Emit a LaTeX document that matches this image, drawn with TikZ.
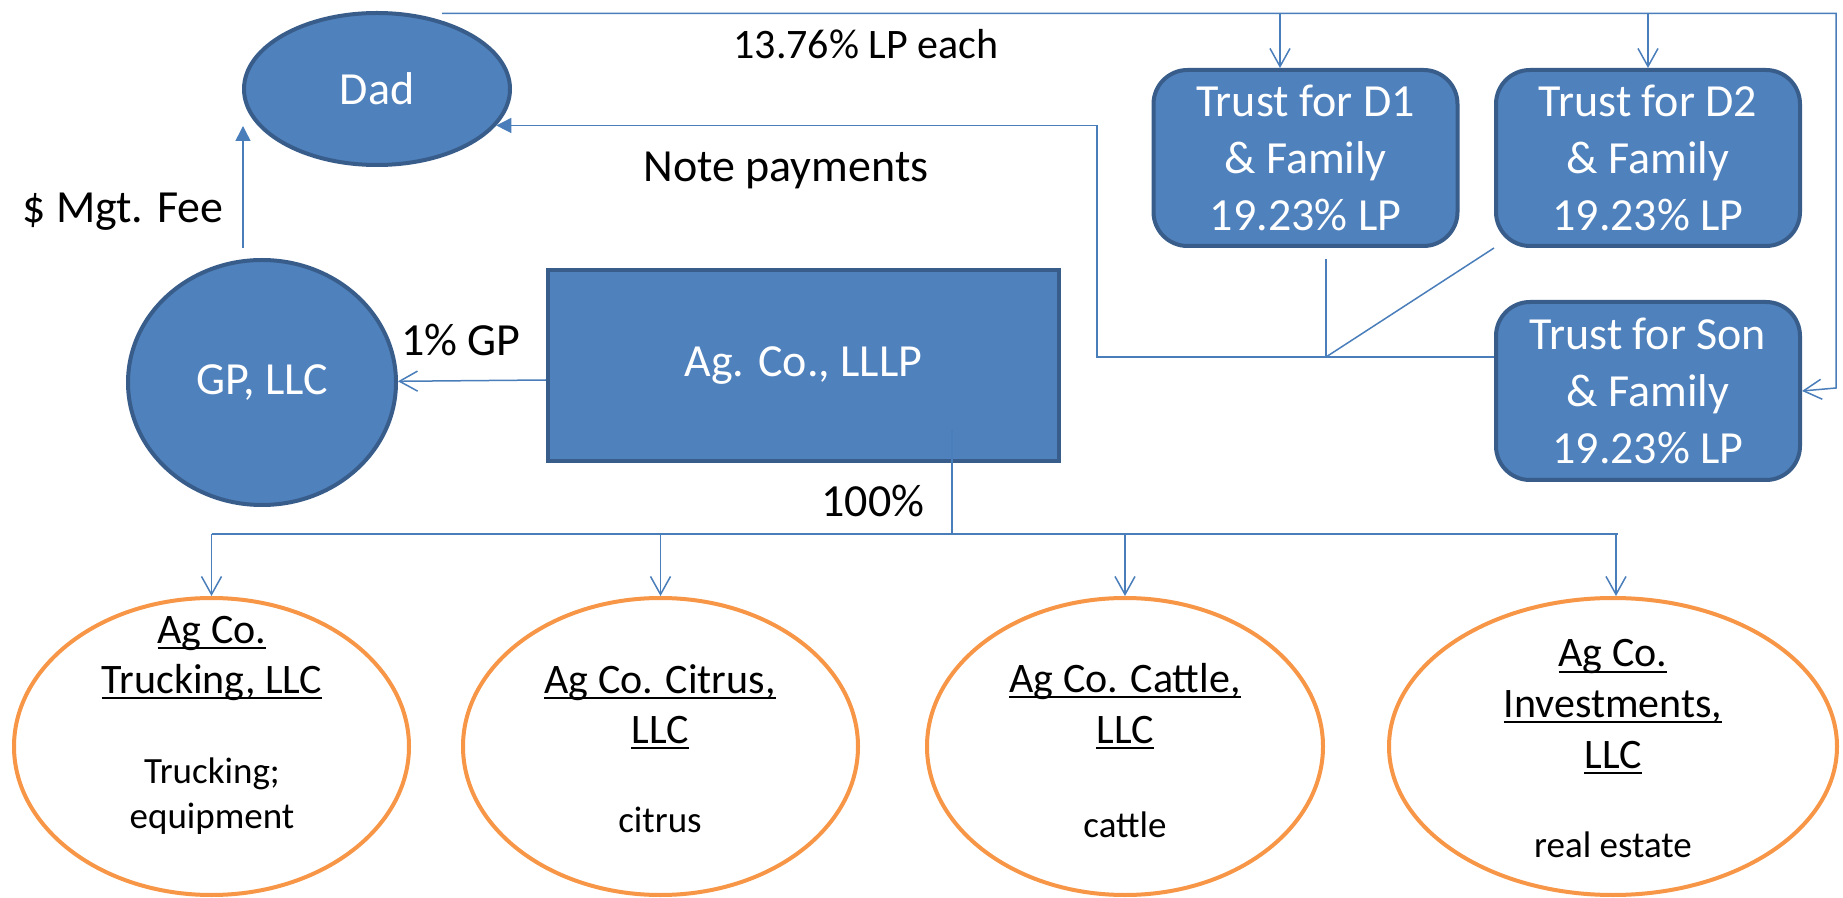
\documentclass[tikz,border=0pt]{standalone}
\usepackage{fontspec}
\setmainfont{Carlito}
\usetikzlibrary{arrows.meta,shapes.geometric}
\definecolor{bfill}{HTML}{4F81BD}
\definecolor{bdraw}{HTML}{385D8A}
\definecolor{connc}{HTML}{4A7EBB}
\definecolor{orng}{HTML}{F79646}
\newcommand{\myul}[1]{\setbox0=\hbox{#1}\rlap{\rule[-3pt]{\wd0}{1pt}}\box0}
\newcommand{\fbig}{\fontsize{23pt}{28.5pt}\selectfont}
\newcommand{\fmid}{\fontsize{21pt}{25pt}\selectfont}
\newcommand{\fsml}{\fontsize{18.5pt}{22.5pt}\selectfont}
\begin{document}
\begin{tikzpicture}[x=0.5pt,y=-0.5pt,
  blueell/.style={ellipse, draw=bdraw, fill=bfill, line width=2pt, text=white, font=\fbig, inner sep=0pt},
  bluebox/.style={rectangle, draw=bdraw, fill=bfill, line width=2pt, text=white, font=\fbig, inner sep=0pt, align=center},
  trustbox/.style={bluebox, rounded corners=17pt, minimum width=152pt, minimum height=88pt},
  orell/.style={ellipse, draw=orng, line width=2pt, inner sep=0pt, minimum height=148.5pt},
  connl/.style={draw=connc, line width=0.75pt},
  openarr/.style={-{Straight Barb[length=9pt,width=10pt]}},
  fillarr/.style={-{Triangle[length=7.5pt,width=7.5pt]}},
  lbl/.style={anchor=base, inner sep=0pt}
]
\path[fill=white,use as bounding box] (0,0) rectangle (1843,898);

% blue shapes
\node[blueell, minimum width=133pt, minimum height=76pt] (Dad) at (377,89) {Dad};
\node[blueell, minimum width=134pt, minimum height=122.5pt] (GP) at (262,382.5) {GP, LLC};
\node[bluebox, minimum width=255.5pt, minimum height=95.5pt] (Ag) at (803.5,365.5) {Ag. Co., LLLP};
\node[trustbox] (D1) at (1305.5,158) {Trust for D1\\\& Family\\19.23\% LP};
\node[trustbox] (D2) at (1648,158) {Trust for D2\\\& Family\\19.23\% LP};
\node[trustbox, minimum height=89pt] (Son) at (1648,391) {Trust for Son\\\& Family\\19.23\% LP};

% orange ellipses
\node[orell, minimum width=197.5pt] (E1) at (211.5,746.5) {};
\node[orell, minimum width=197.5pt] (E2) at (660.5,746.5) {};
\node[orell, minimum width=198pt] (E3) at (1125,746.5) {};
\node[orell, minimum width=224pt] (E4) at (1613,746.5) {};

% ellipse texts
\node[lbl, font=\fmid] (e1a) at (212,643) {\myul{Ag Co.}};
\node[lbl, font=\fmid] (e1b) at (212,693) {\myul{Trucking, LLC}};
\node[lbl, font=\fsml] (e1c) at (212,783) {Trucking;};
\node[lbl, font=\fsml] (e1d) at (212,828) {equipment};
\node[lbl, font=\fmid] (e2a) at (660,693) {\myul{Ag Co. Citrus,}};
\node[lbl, font=\fmid] (e2b) at (660,743) {\myul{LLC}};
\node[lbl, font=\fsml] (e2c) at (660,832) {citrus};
\node[lbl, font=\fmid] (e3a) at (1125,692) {\myul{Ag Co. Cattle,}};
\node[lbl, font=\fmid] (e3b) at (1125,743) {\myul{LLC}};
\node[lbl, font=\fsml] (e3c) at (1125,837) {cattle};
\node[lbl, font=\fmid] (e4a) at (1613,667) {\myul{Ag Co.}};
\node[lbl, font=\fmid] (e4b) at (1613,717) {\myul{Investments,}};
\node[lbl, font=\fmid] (e4c) at (1613,768) {\myul{LLC}};
\node[lbl, font=\fsml] (e4d) at (1613,857) {real estate};

% free labels
\node[lbl, font=\fmid] (lpeach) at (866,59) {13.76\% LP each};
\node[lbl, font=\fbig] (notep) at (786,182) {Note payments};
\node[lbl, font=\fbig] (mgt) at (123,223) {\$ Mgt. Fee};
\node[lbl, font=\fbig] (gpl) at (461,356) {1\% GP};
\node[lbl, font=\fbig] (hund) at (873,517) {100\%};

% top LP line
\coordinate (ts) at (442,13.5);
\coordinate (tr) at (1836,13.5);
\coordinate (trd) at (1836,388);
\draw[connl, openarr] (ts) -- (tr) -- (trd) -- (Son.east);
\coordinate (a1) at (1280,13.5);
\draw[connl, openarr] (a1) -- (a1 |- D1.north);
\coordinate (a2) at (1648,13.5);
\draw[connl, openarr] (a2) -- (D2.north);

% note payments
\coordinate (j) at (1326,357);
\coordinate (k) at (1097,357);
\coordinate (d1b) at (1326,259);
\draw[connl, line width=1pt] (j -| Son.west) -- (j);
\draw[connl, fillarr] (j) -- (k) |- (Dad.-17);
\draw[connl] (d1b) -- (j);
\draw[connl] (D2.south west) -- (j);

% management fee
\coordinate (m1) at (243,248);
\coordinate (m2) at (243,126);
\draw[connl, fillarr] (m1) -- (m2);

% 1% GP
\coordinate (ga) at (Ag.west |- 0,380);
\draw[connl, openarr] (ga) -- (GP);

% 100% bus
\coordinate (rb) at (952,430);
\coordinate (bus) at (952,534);
\coordinate (bl) at (211.5,534);
\coordinate (br) at (1618,534);
\coordinate (b4) at (1616,534);
\draw[connl] (rb) -- (bus);
\draw[connl, line width=1.25pt] (bl) -- (br);
\draw[connl, openarr] (bl) -- (E1.north);
\draw[connl, openarr] (E2.north |- bus) -- (E2.north);
\draw[connl, openarr] (E3.north |- bus) -- (E3.north);
\draw[connl, openarr] (b4) -- (b4 |- E4.north);
\end{tikzpicture}
\end{document}
